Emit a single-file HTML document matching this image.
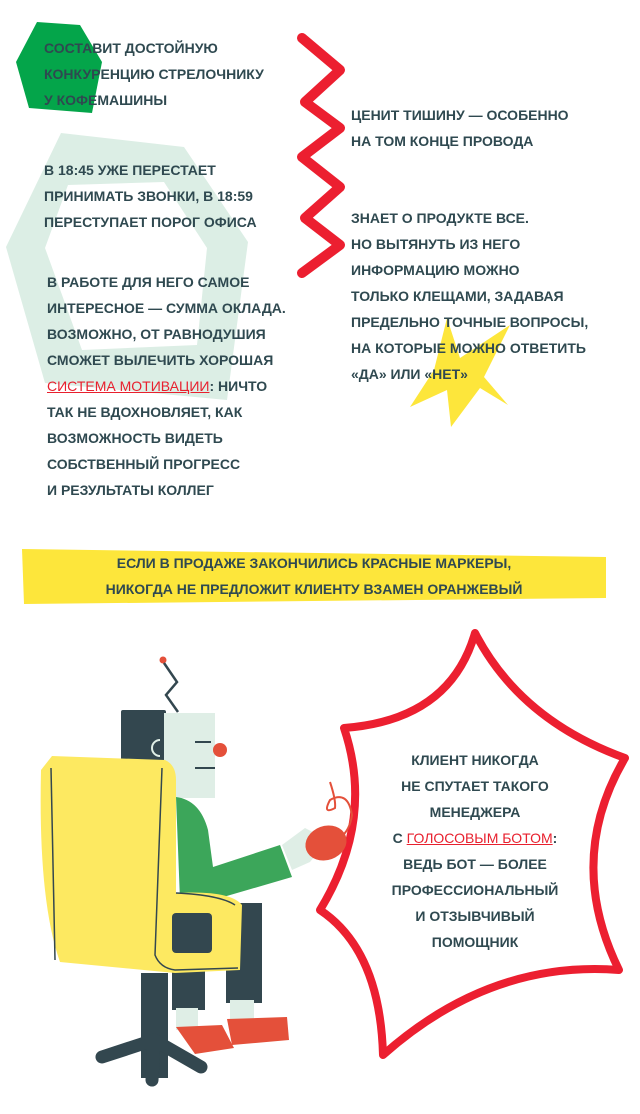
<!DOCTYPE html>
<html><head><meta charset="utf-8"><style>
html,body{margin:0;padding:0;background:#fff}
body{width:640px;height:1114px;position:relative;overflow:hidden;font-family:"Liberation Sans","Noto Sans CJK SC",sans-serif}
svg{position:absolute;left:0;top:0}
.t{position:absolute;font-weight:bold;font-size:14px;line-height:26px;color:#2f4950;text-transform:uppercase;white-space:nowrap}
.r{color:#e8202e;text-decoration:underline;font-weight:normal}
.c{text-align:center}
</style></head><body>
<svg width="640" height="1114" viewBox="0 0 640 1114">
<path fill-rule="evenodd" fill="#dceee5" d="M61,133 L184,147 L248,242 L227,400 L45,383 L6,247 Z M68,185 L164,182 L207,248 L197,345 L82,350 L45,248 Z"/>
<polygon points="37,22 80,25 102,62 92,113 29,108 16,62" fill="#04a54a"/>
<polyline points="302,38 340,70 305,102 340,128 302,157 340,187 305,218 340,245 302,273" fill="none" stroke="#ec1f30" stroke-width="10" stroke-linecap="round" stroke-linejoin="round"/>
<polygon points="447,318 460,358 510,325 484,377 508,405 480,388 451,427 447,390 410,407 434,370" fill="#fde63b"/>
<polygon points="22,549 606,557 606,598 24,604" fill="#fde63b"/>
<path d="M475,633 Q520,720 625,758 Q565,860 619,970 Q490,960 383,1055 Q380,950 320,910 Q375,820 344,728 Q450,720 475,633 Z" fill="#fff" stroke="#ec1f30" stroke-width="8" stroke-linejoin="round"/>
<!-- robot -->
<circle cx="163" cy="660" r="3.5" fill="#e4503a"/>
<polyline points="164,663 177,682 166,695 178,712" fill="none" stroke="#33474f" stroke-width="2.5"/>
<rect x="121" y="710" width="45" height="60" fill="#33474f" rx="2"/>
<rect x="164" y="713" width="51" height="85" fill="#dfeee6"/>
<path d="M160,740 A8,8 0 0 0 160,756" fill="none" stroke="#dfeee6" stroke-width="2"/>
<line x1="195" y1="742" x2="211" y2="742" stroke="#33474f" stroke-width="2"/>
<line x1="195" y1="768" x2="215" y2="768" stroke="#33474f" stroke-width="2"/>
<circle cx="220" cy="750" r="7" fill="#e4503a"/>
<path d="M176,797 Q200,800 208,830 L213,867 L280,845 L292,877 L213,900 L180,900 Z" fill="#3ca65a"/>
<path d="M282,845 L305,828 L328,840 L310,862 L292,870 Z" fill="#dfeee6"/>
<ellipse cx="326" cy="843" rx="21" ry="17" fill="#e4503a" transform="rotate(-20 326 843)"/>
<path d="M330,782 Q336,800 335,808 Q322,815 330,800 Q348,790 352,815 Q350,830 340,838" fill="none" stroke="#e4503a" stroke-width="2"/>
<rect x="176" y="903" width="86" height="40" fill="#33474f"/>
<rect x="172" y="940" width="33" height="70" fill="#33474f"/>
<rect x="226" y="903" width="36" height="100" fill="#33474f"/>
<rect x="176" y="1008" width="22" height="22" fill="#dfeee6"/>
<rect x="230" y="1000" width="24" height="20" fill="#dfeee6"/>
<path d="M176,1027 L222,1025 L234,1048 L195,1054 Z" fill="#e4503a"/>
<path d="M227,1019 L287,1017 L289,1040 L232,1045 Z" fill="#e4503a"/>
<rect x="141" y="973" width="27" height="105" fill="#33474f"/>
<path d="M154,1040 L102,1057 M154,1040 L201,1067 M154,1040 L152,1080" stroke="#33474f" stroke-width="13" stroke-linecap="round"/>
<path d="M52,756 L165,760 Q176,765 176,780 L176,893 Q230,890 242,905 L240,970 L175,973 L60,962 Q38,900 41,770 Z" fill="#fde961"/>
<path d="M162,768 L155,955 Q160,968 175,970 L238,968" fill="none" stroke="#33474f" stroke-width="1.5"/>
<path d="M176,893 Q220,895 235,905" fill="none" stroke="#33474f" stroke-width="1.5"/>
<line x1="51" y1="768" x2="55" y2="960" stroke="#33474f" stroke-width="1.5"/>
<rect x="172" y="913" width="40" height="40" rx="4" fill="#33474f"/>
</svg>
<div class="t" style="left:44px;top:35px">Составит достойную<br>конкуренцию стрелочнику<br>у кофемашины</div>
<div class="t" style="left:44px;top:157px">В 18:45 уже перестает<br>принимать звонки, в 18:59<br>переступает порог офиса</div>
<div class="t" style="left:47px;top:269px">В работе для него самое<br>интересное — сумма оклада.<br>Возможно, от равнодушия<br>сможет вылечить хорошая<br><span class="r">система мотивации</span>: ничто<br>так не вдохновляет, как<br>возможность видеть<br>собственный прогресс<br>и результаты коллег</div>
<div class="t" style="left:351px;top:102px">Ценит тишину — особенно<br>на том конце провода</div>
<div class="t" style="left:351px;top:205px">Знает о продукте все.<br>Но вытянуть из него<br>информацию можно<br>только клещами, задавая<br>предельно точные вопросы,<br>на которые можно ответить<br>«да» или «нет»</div>
<div class="t c" style="left:22px;width:584px;top:550px">Если в продаже закончились красные маркеры,<br>никогда не предложит клиенту взамен оранжевый</div>
<div class="t c" style="left:375px;width:200px;top:747px">Клиент никогда<br>не спутает такого<br>менеджера<br>с <span class="r">голосовым ботом</span>:<br>ведь бот — более<br>профессиональный<br>и отзывчивый<br>помощник</div>
</body></html>
